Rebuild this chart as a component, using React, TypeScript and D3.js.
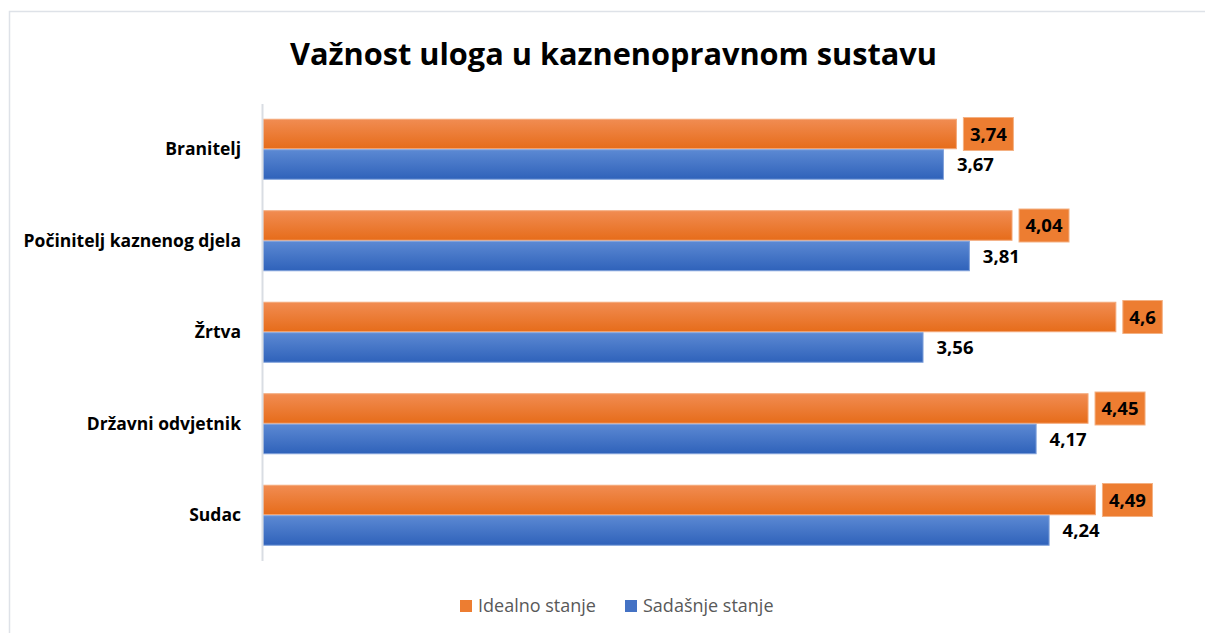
import React from "react";
import * as d3 from "d3";

const title = "Važnost uloga u kaznenopravnom sustavu";
const categories = ["Branitelj", "Počinitelj kaznenog djela", "Žrtva", "Državni odvjetnik", "Sudac"];
const idealno = [3.74, 4.04, 4.6, 4.45, 4.49];
const sadasnje = [3.67, 3.81, 3.56, 4.17, 4.24];
const seriesNames = ["Idealno stanje", "Sadašnje stanje"];

const W = 1205;
const H = 633;
const FONT = "'Open Sans', sans-serif";
const LABEL_SIZE = 18.5;

let ctx: CanvasRenderingContext2D | null = null;
function measure(t: string, font: string) {
  if (!ctx) ctx = document.createElement("canvas").getContext("2d");
  if (!ctx) return t.length * 10;
  ctx.font = font;
  return ctx.measureText(t).width;
}

export default function App() {
  const x = d3.scaleLinear().domain([0, 5]).range([263, 1190]);
  const y = d3.scaleBand<string>().domain(categories).range([103.5, 561]).paddingInner(1 / 3).paddingOuter(1 / 6);
  const bh = y.bandwidth() / 2;
  const fmt = (v: number) => String(v).replace(".", ",");

  const series = [
    { name: seriesNames[0], values: idealno, grad: "gOrange", stroke: "#F4A878", box: true, color: "#ED7D31" },
    { name: seriesNames[1], values: sadasnje, grad: "gBlue", stroke: "#7FA0DA", box: false, color: "#4472C4" },
  ];

  return (
    <svg width={W} height={H} style={{ position: "absolute", left: 0, top: 0 }} fontFamily={FONT}>
      <defs>
        <linearGradient id="gOrange" x1="0" y1="0" x2="0" y2="1">
          <stop offset="0" stopColor="#F18C52" />
          <stop offset="1" stopColor="#E66C1A" />
        </linearGradient>
        <linearGradient id="gBlue" x1="0" y1="0" x2="0" y2="1">
          <stop offset="0" stopColor="#5C89D3" />
          <stop offset="1" stopColor="#2F62BA" />
        </linearGradient>
      </defs>
      <rect x={0} y={0} width={W} height={H} fill="#fff" />
      <rect x={9.5} y={11.5} width={1400} height={800} fill="#fff" stroke="#DEE2E8" strokeWidth={1.5} />
      <text x={613.5} y={65} textAnchor="middle" fontSize={31} fontWeight="bold" fill="#000" textLength={647} lengthAdjust="spacingAndGlyphs">
        {title}
      </text>

      {categories.map((c) => (
        <text key={c} x={241} y={(y(c) ?? 0) + bh} dy="0.35em" textAnchor="end" fontSize={17.5} fontWeight="bold" fill="#000">
          {c}
        </text>
      ))}

      {series.map((s, si) =>
        categories.map((c, i) => {
          const v = s.values[i];
          const y0 = (y(c) ?? 0) + si * bh;
          const xe = x(v);
          return (
            <rect key={s.name + c} x={x(0)} y={y0 + 0.5} width={xe - x(0)} height={bh - 1} fill={`url(#${s.grad})`} stroke={s.stroke} strokeWidth={1} />
          );
        })
      )}

      <line x1={262.5} x2={262.5} y1={104} y2={561} stroke="#D9DDE3" strokeWidth={2} />

      {series.map((s, si) =>
        categories.map((c, i) => {
          const v = s.values[i];
          const cy = (y(c) ?? 0) + si * bh + bh / 2;
          const xe = x(v);
          const label = fmt(v);
          const tw = measure(label, `bold ${LABEL_SIZE}px 'Open Sans'`);
          return (
            <g key={"l" + s.name + c}>
              {s.box && (
                <rect x={xe + 7} y={cy - 16.5} width={tw + 13} height={33} fill="#ED7D31" stroke="#F4B183" strokeWidth={1} />
              )}
              <text x={xe + 13.5} y={cy} dy="0.36em" fontSize={LABEL_SIZE} fontWeight="bold" fill="#000">
                {label}
              </text>
            </g>
          );
        })
      )}

      {series.map((s, si) => {
        const lx = si === 0 ? 460 : 625;
        return (
          <g key={"lg" + s.name}>
            <rect x={lx} y={600} width={12} height={12} fill={s.color} />
            <text x={lx + 18} y={606} dy="0.35em" fontSize={18} fill="#595959">
              {s.name}
            </text>
          </g>
        );
      })}
    </svg>
  );
}
